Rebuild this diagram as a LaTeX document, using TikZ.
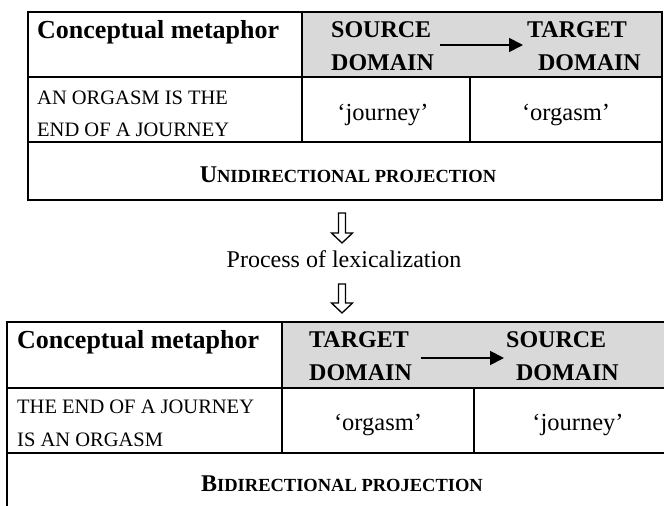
\documentclass[tikz,border=0pt]{standalone}
\usepackage{fontspec}
\setmainfont{Liberation Serif}
\usetikzlibrary{arrows.meta,calc}
\definecolor{hdrgray}{HTML}{D9D9D9}
\tikzset{
  tline/.style={line width=1.8pt},
  hdrtext/.style={font=\fontsize{24}{24}\selectfont\bfseries, inner sep=0pt},
  metatext/.style={font=\fontsize{26}{26}\selectfont\bfseries, inner sep=0pt, anchor=base west},
  captext/.style={font=\fontsize{20.5}{20}\selectfont, inner sep=0pt, anchor=base west},
  wordtext/.style={font=\fontsize{24.5}{24}\selectfont, inner sep=0pt, anchor=base},
  proctext/.style={font=\fontsize{24}{24}\selectfont, inner sep=0pt, anchor=base},
  projtext/.style={font=\bfseries, inner sep=0pt, anchor=base},
  maparrow/.style={line width=1.8pt, -{Triangle[length=14pt,width=14pt]}},
  hollowarrow/.style={line width=1.3pt, draw=black, fill=white}
}
\newcommand{\smallcapsword}[2]{{\fontsize{24}{24}\selectfont #1}{\fontsize{18.5}{20}\selectfont #2}}
\begin{document}
\begin{tikzpicture}[x=1pt,y=-1pt]
\clip (0,0) rectangle (664,506);
\fill[white] (0,0) rectangle (664,506);

% ---------- top table ----------
\fill[hdrgray] (302,12) rectangle (662,77);
\draw[tline] (28,12) rectangle (662,200);
\draw[tline] (28,77) -- (662,77);
\draw[tline] (28,142) -- (662,142);
\draw[tline] (302,12) -- (302,142);
\draw[tline] (470,77) -- (470,142);

\node[metatext] (cm1) at (37,38) {Conceptual metaphor};
\node[hdrtext, anchor=base west] (src1a) at (331,37) {SOURCE};
\node[hdrtext, anchor=base west] (src1b) at (331,70) {DOMAIN};
\node[hdrtext, anchor=base west] (tgt1a) at (527,37) {TARGET};
\node[hdrtext, anchor=base east] (tgt1b) at (641,70) {DOMAIN};
\coordinate (m1s) at (440,45);
\coordinate (m1t) at (523,45);
\draw[maparrow] (m1s) -- (m1t);

\node[captext] (ex1a) at (37,104) {AN ORGASM IS THE};
\node[captext] (ex1b) at (37,136) {END OF A JOURNEY};
\node[wordtext] (w1a) at (383,120) {‘journey’};
\node[wordtext] (w1b) at (566,120) {‘orgasm’};
\node[projtext] (p1) at (348,182) {\smallcapsword{U}{NIDIRECTIONAL PROJECTION}};

% ---------- process ----------
\coordinate (h1) at (342,213);
\draw[hollowarrow] ($(h1)+(-3.5,0)$) -- ++(0,20) -- ++(-7,0) -- ++(10.5,10) -- ++(10.5,-10) -- ++(-7,0) -- ++(0,-20) -- cycle;
\node[proctext] (proc) at (344,267) {Process of lexicalization};
\coordinate (h2) at (342,284);
\draw[hollowarrow] ($(h2)+(-3.5,0)$) -- ++(0,19) -- ++(-7,0) -- ++(10.5,10) -- ++(10.5,-10) -- ++(-7,0) -- ++(0,-19) -- cycle;

% ---------- bottom table ----------
\fill[hdrgray] (282,322) rectangle (700,388);
\draw[tline] (700,322) -- (7,322) -- (7,520);
\draw[tline] (7,388) -- (700,388);
\draw[tline] (7,453) -- (700,453);
\draw[tline] (282,322) -- (282,453);
\draw[tline] (474,388) -- (474,453);

\node[metatext] (cm2) at (17,348) {Conceptual metaphor};
\node[hdrtext, anchor=base west] (tgt2a) at (309,347) {TARGET};
\node[hdrtext, anchor=base west] (tgt2b) at (309,380) {DOMAIN};
\node[hdrtext, anchor=base west] (src2a) at (506,347) {SOURCE};
\node[hdrtext, anchor=base east] (src2b) at (619,380) {DOMAIN};
\coordinate (m2s) at (421,358);
\coordinate (m2t) at (504,358);
\draw[maparrow] (m2s) -- (m2t);

\node[captext] (ex2a) at (17,413) {THE END OF A JOURNEY};
\node[captext] (ex2b) at (17,446) {IS AN ORGASM};
\node[wordtext] (w2a) at (378,430) {‘orgasm’};
\node[wordtext] (w2b) at (578,430) {‘journey’};
\node[projtext] (p2) at (342,491) {\smallcapsword{B}{IDIRECTIONAL PROJECTION}};
\end{tikzpicture}
\end{document}
